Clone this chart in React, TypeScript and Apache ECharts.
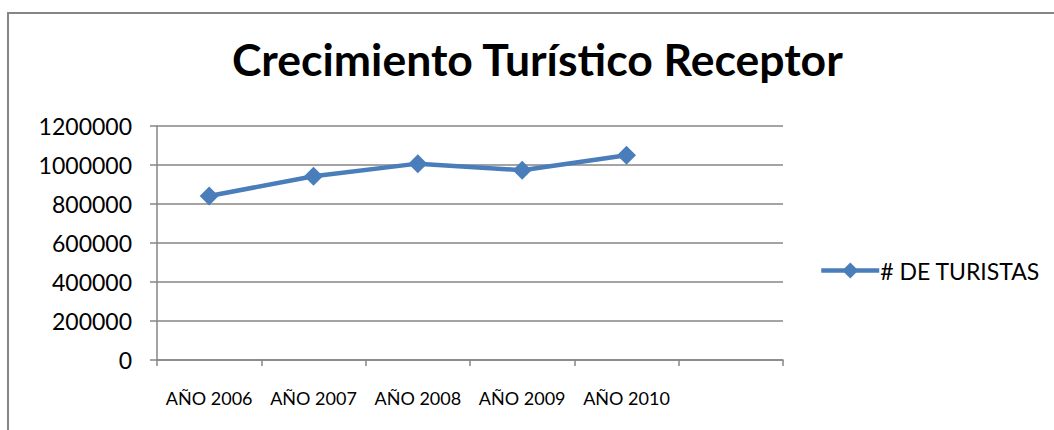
import React, { useEffect, useRef } from "react";
import * as echarts from "echarts";

const categories = ["AÑO 2006", "AÑO 2007", "AÑO 2008", "AÑO 2009", "AÑO 2010", ""];
const turistas = [841000, 942000, 1007000, 973000, 1050000];
const seriesName = "# DE TURISTAS";
const titleText = "Crecimiento Turístico Receptor";

const FONT = "Lato, 'Noto Sans', sans-serif";
const GRAY = "#868686";
const BLUE = "#4A7EBB";

export default function App() {
  const ref = useRef<HTMLDivElement>(null);
  useEffect(() => {
    if (!ref.current) return;
    const chart = echarts.init(ref.current, undefined, { renderer: "svg" });
    chart.setOption({
      animation: false,
      backgroundColor: "#ffffff",
      title: {
        text: titleText,
        left: 232,
        top: 36,
        padding: 0,
        textStyle: { fontFamily: FONT, fontWeight: "bold", fontSize: 44.5, color: "#000" },
      },
      graphic: [
        {
          type: "rect",
          shape: { x: 8, y: 13, width: 1200, height: 600 },
          style: { fill: "none", stroke: GRAY, lineWidth: 2 },
          silent: true,
        },
      ],
      legend: {
        left: 814,
        top: 254,
        itemWidth: 58,
        itemHeight: 20,
        itemGap: 10,
        lineStyle: { width: 4.5, color: BLUE },
        textStyle: { fontFamily: FONT, fontSize: 23, color: "#000", padding: [0, 0, 0, -4] },
        data: [seriesName],
      },
      grid: { left: 157, right: 271, top: 126, bottom: 70, containLabel: false },
      xAxis: {
        type: "category",
        data: categories,
        boundaryGap: true,
        axisLine: { show: true, lineStyle: { color: GRAY, width: 1.5 } },
        axisTick: { show: true, interval: 0, length: 6, inside: false, lineStyle: { color: GRAY, width: 1.5 } },
        axisLabel: { interval: 0, margin: 29, fontFamily: FONT, fontSize: 18, color: "#000" },
        splitLine: { show: false },
      },
      yAxis: {
        type: "value",
        min: 0,
        max: 1200000,
        interval: 200000,
        axisLine: { show: true, lineStyle: { color: GRAY, width: 1.5 } },
        axisTick: { show: true, length: 7, inside: false, lineStyle: { color: GRAY, width: 1.5 } },
        axisLabel: {
          margin: 25,
          fontFamily: FONT,
          fontSize: 23,
          color: "#000",
          formatter: (v: number) => String(v),
        },
        splitLine: { show: true, lineStyle: { color: GRAY, width: 1.5 } },
      },
      series: [
        {
          name: seriesName,
          type: "line",
          data: turistas,
          symbol: "diamond",
          symbolSize: 19,
          showSymbol: true,
          lineStyle: { color: BLUE, width: 4.5 },
          itemStyle: { color: BLUE },
        },
      ],
    });
    return () => chart.dispose();
  }, []);
  return (
    <div
      ref={ref}
      style={{ position: "absolute", left: 0, top: 0, width: 1054, height: 430 }}
    />
  );
}
